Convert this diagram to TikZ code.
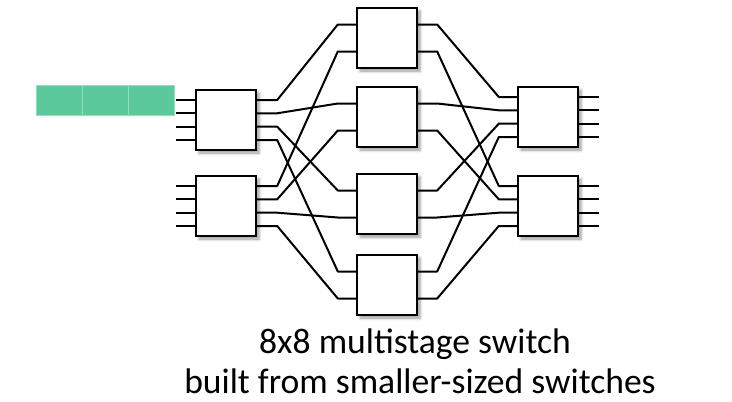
\documentclass[tikz,border=0pt]{standalone}
\usepackage{fontspec}
\setmainfont{Carlito}
\usepackage{tikz}
\usetikzlibrary{calc,shadows.blur}

\definecolor{bufgreen}{HTML}{5CC99D}
\definecolor{bufline}{HTML}{93DCBD}

\begin{document}
\begin{tikzpicture}[x=1pt, y=-1pt,
        switch/.style={draw, line width=2.4pt, fill=white, minimum width=60pt, minimum height=60pt, inner sep=0pt,
            blur shadow={shadow xshift=3pt, shadow yshift=-3pt, shadow blur radius=3pt, shadow opacity=40}},
        wire/.style={line width=2pt, line join=round},
        cell/.style={draw=bufline, line width=0.8pt, fill=bufgreen, minimum width=46pt, minimum height=30pt, inner sep=0pt},
        caption/.style={font=\fontsize{35.6}{42}\selectfont, anchor=base, inner sep=0pt}]
        \useasboundingbox (0, 0) rectangle (732, 402);

        % input buffer
        \foreach \i in {0, 1, 2}
            \node[cell] (buf\i) at (59 + 46*\i, 100) {};

        % three stages of switches
        \node[switch] (L1) at (226, 120) {};
        \node[switch] (L2) at (226, 206) {};
        \node[switch] (M1) at (387, 38) {};
        \node[switch] (M2) at (387, 117) {};
        \node[switch] (M3) at (387, 204) {};
        \node[switch] (M4) at (387, 285) {};
        \node[switch] (R1) at (548, 117) {};
        \node[switch] (R2) at (548, 206) {};

        % ports
        \foreach \b in {L1, L2, R1, R2}
            \foreach \k/\dy in {1/-20, 2/-6.7, 3/6.7, 4/20} {
                \coordinate (\b-w\k) at ($(\b.west) + (0, \dy)$);
                \coordinate (\b-e\k) at ($(\b.east) + (0, \dy)$);
            }
        \foreach \b in {M1, M2, M3, M4}
            \foreach \k/\dy in {1/-13.5, 2/13.5} {
                \coordinate (\b-w\k) at ($(\b.west) + (0, \dy)$);
                \coordinate (\b-e\k) at ($(\b.east) + (0, \dy)$);
            }

        % inputs and outputs
        \foreach \b in {1, 2}
            \foreach \k in {1, ..., 4} {
                \draw[wire] (L\b-w\k) -- ++(-19, 0);
                \draw[wire] (R\b-e\k) -- ++(20, 0);
            }

        % first stage to middle stage
        \foreach \i in {1, 2}
            \foreach \k in {1, ..., 4}
                \draw[wire] (L\i-e\k) -- ++(20, 0) -- ($(M\k-w\i) + (-18, 0)$) -- (M\k-w\i);

        % middle stage to last stage
        \foreach \k in {1, ..., 4}
            \foreach \j in {1, 2}
                \draw[wire] (M\k-e\j) -- ++(19, 0) -- ($(R\j-w\k) + (-18, 0)$) -- (R\j-w\k);

        \node[caption] (title) at (415, 353) {8x8 multistage switch};
        \node[caption] (subtitle) at (420, 393.5) {built from smaller-sized switches};
    \end{tikzpicture}
\end{document}
